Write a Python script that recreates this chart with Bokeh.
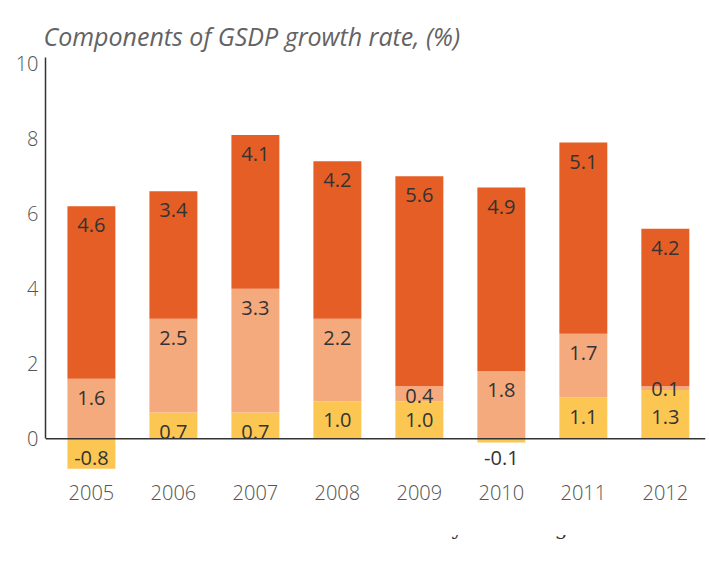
from bokeh.plotting import figure
from bokeh.layouts import column
from bokeh.models import Range1d, FixedTicker, Span, Legend, LegendItem, ColumnDataSource
from bokeh.embed import file_html
from bokeh.resources import INLINE
from bokeh.core.properties import value

# ---- data ----
years = ["2005", "2006", "2007", "2008", "2009", "2010", "2011", "2012"]
agriculture = [-0.8, 0.7, 0.7, 1.0, 1.0, -0.1, 1.1, 1.3]
industry = [1.6, 2.5, 3.3, 2.2, 0.4, 1.8, 1.7, 0.1]
services = [4.6, 3.4, 4.1, 4.2, 5.6, 4.9, 5.1, 4.2]
series_names = ["Services", "Industry", "Agriculture"]
y_ticks = [0, 2, 4, 6, 8, 10]
title_text = "Components of GSDP growth rate, (%)"

# ---- styles ----
colors = {"Services": "#E55E25", "Industry": "#F5AA7E", "Agriculture": "#FCC652"}
label_color = "#333333"
tick_color = "#555555"
BASE_FONT = "Open Sans"
TICK_FONT = "Open Sans Light"
LABEL_DROP = 19  # px below segment upper edge
nudges = {("Industry", "2009"): 10, ("Industry", "2012"): 3, ("Agriculture", "2012"): 27}

xs = list(range(len(years)))

# stacking
agri_bottom = [min(a, 0) for a in agriculture]
agri_top = [max(a, 0) for a in agriculture]
ind_bottom = agri_top
ind_top = [b + v for b, v in zip(ind_bottom, industry)]
serv_bottom = ind_top
serv_top = [b + v for b, v in zip(serv_bottom, services)]

stacks = {
    "Agriculture": (agri_bottom, agri_top, agriculture),
    "Industry": (ind_bottom, ind_top, industry),
    "Services": (serv_bottom, serv_top, services),
}

p = figure(
    width=709, height=535,
    x_range=Range1d(-0.56, 7.49), y_range=Range1d(-0.9, 10.17),
    output_backend="svg", toolbar_location=None,
    min_border_left=45, min_border_right=4, min_border_top=57, min_border_bottom=63,
)
p.title.text = title_text
p.title.text_font = BASE_FONT
p.title.text_font_style = "italic"
p.title.text_font_size = "25px"
p.title.text_color = "#636363"
p.title.align = "left"
p.title.standoff = 10
p.title.offset = -2

p.outline_line_color = None
p.xgrid.grid_line_color = None
p.ygrid.grid_line_color = None

for name in ["Agriculture", "Industry", "Services"]:
    bottom, top, vals = stacks[name]
    src = ColumnDataSource(dict(x=xs, bottom=bottom, top=top))
    p.vbar(x="x", bottom="bottom", top="top", width=0.585, source=src,
           fill_color=colors[name], line_color=None)

# data labels
for name in ["Agriculture", "Industry", "Services"]:
    bottom, top, vals = stacks[name]
    ly = [max(b, t) for b, t in zip(bottom, top)]
    offs = [nudges.get((name, y), LABEL_DROP) for y in years]
    src = ColumnDataSource(dict(x=xs, y=ly, t=[f"{v:.1f}" for v in vals], off=offs))
    p.text(x="x", y="y", text="t", y_offset="off", source=src,
           text_align="center", text_baseline="middle",
           text_font=value(BASE_FONT), text_font_size="20px", text_color=label_color)

p.add_layout(Span(location=0, dimension="width", line_color="#333333", line_width=1.5))

# axes
ya = p.yaxis[0]
ya.ticker = FixedTicker(ticks=y_ticks)
ya.bounds = (0, 10.17)
ya.axis_line_color = "#333333"
ya.axis_line_width = 1.5
ya.major_tick_line_color = None
ya.minor_tick_line_color = None
ya.major_tick_in = 0
ya.major_tick_out = 0
ya.major_label_standoff = 7
ya.major_label_text_font = TICK_FONT
ya.major_label_text_font_size = "20px"
ya.major_label_text_color = tick_color

xa = p.xaxis[0]
xa.ticker = FixedTicker(ticks=xs)
xa.major_label_overrides = {i: y for i, y in zip(xs, years)}
xa.axis_line_color = None
xa.major_tick_line_color = None
xa.minor_tick_line_color = None
xa.major_tick_in = 0
xa.major_tick_out = 0
xa.major_label_standoff = 12
xa.major_label_text_font = TICK_FONT
xa.major_label_text_font_size = "20px"
xa.major_label_text_color = tick_color

# ---- legend strip (separate small figure below the chart) ----
lf = figure(
    width=709, height=30, x_range=Range1d(0, 1), y_range=Range1d(0, 1),
    x_axis_type=None, y_axis_type=None,
    output_backend="svg", toolbar_location=None, min_border=0,
)
lf.outline_line_color = None
lf.xgrid.grid_line_color = None
lf.ygrid.grid_line_color = None
legend_renderers = {}
for name in series_names:
    legend_renderers[name] = lf.vbar(x=[], top=[], width=0.5,
                                     fill_color=colors[name], line_color=None)

legend = Legend(
    items=[LegendItem(label=n, renderers=[legend_renderers[n]]) for n in series_names],
    orientation="horizontal", location=(133, 25),
    glyph_width=19, glyph_height=19, label_standoff=10, spacing=47,
    label_text_font="DejaVu Serif", label_text_font_size="21px",
    label_text_color="#333333", label_height=21,
    border_line_color=None, background_fill_alpha=0,
    margin=0, padding=0,
)
lf.add_layout(legend, "center")

layout = column(p, lf, spacing=0)
open("out.html", "w").write(file_html(layout, INLINE))
